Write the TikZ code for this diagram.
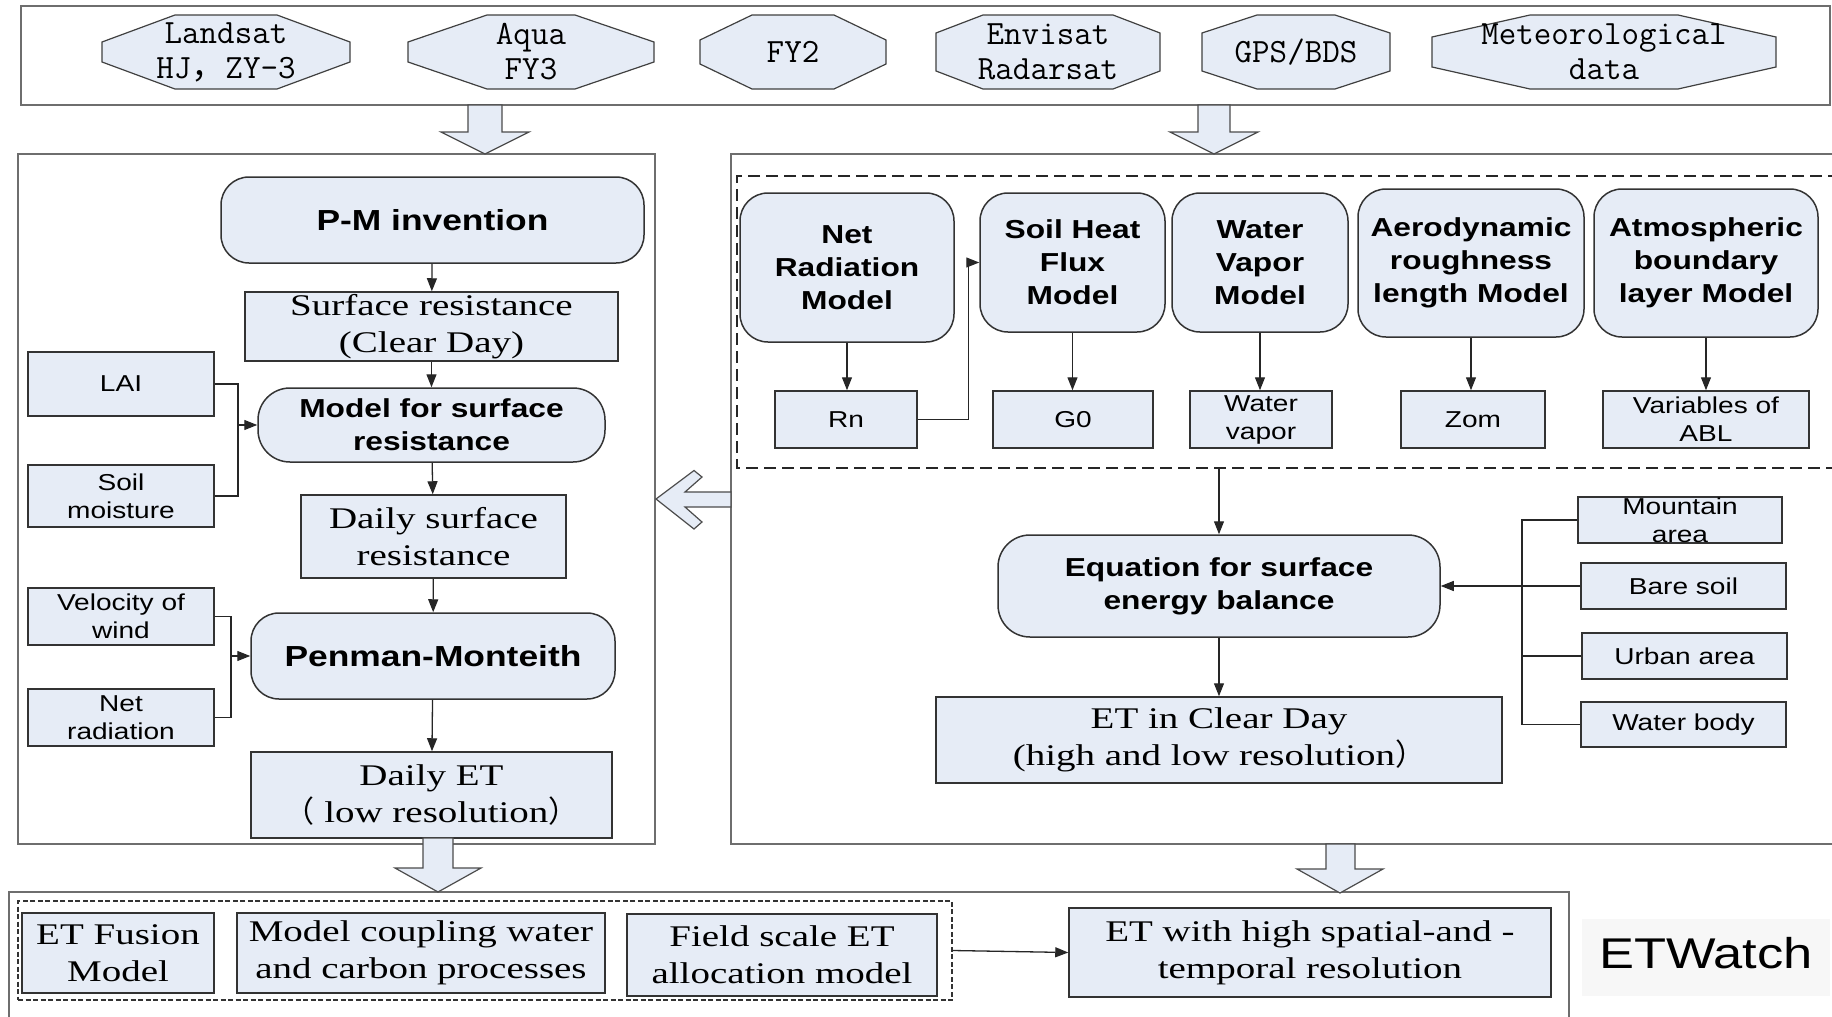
\documentclass[tikz,border=0pt]{standalone}
\usepackage{fontspec}
\setmainfont{Liberation Serif}[FakeStretch=1.3]
\setsansfont{Liberation Sans}[FakeStretch=1.22]
\newfontfamily\cjk{Noto Sans CJK SC}
\usetikzlibrary{arrows.meta}

\definecolor{boxblue}{RGB}{230,236,246}
\definecolor{framegray}{RGB}{110,110,110}

\tikzset{
  every node/.style={inner sep=0pt, align=center},
  satframe/.style={draw=black!75, fill=boxblue, line width=1.2pt},
  sat/.style={rectangle, font=\ttfamily\fontsize{34}{35}\selectfont},
  modelbox/.style={rectangle, rounded corners=28pt, draw=black!80, fill=boxblue, line width=1.5pt,
    font=\sffamily\bfseries\fontsize{26}{33}\selectfont},
  bigmodel/.style={modelbox, font=\sffamily\bfseries\fontsize{29}{35}\selectfont},
  databox/.style={rectangle, draw=black!80, fill=boxblue, line width=1.5pt,
    font=\sffamily\fontsize{23}{28}\selectfont},
  resbox/.style={rectangle, draw=black!80, fill=boxblue, line width=1.5pt,
    font=\rmfamily\fontsize{30}{37}\selectfont},
  panel/.style={draw=framegray, line width=2pt},
  link/.style={line width=1.3pt, draw=black!85},
  flow/.style={link, -{Triangle[length=13pt,width=10pt]}},
  blockarrow/.style={draw=black!70, fill=boxblue, line width=1.2pt, line join=miter}
}

\begin{document}
\begin{tikzpicture}[x=1pt, y=-1pt]
\useasboundingbox (0,0) rectangle (1832,1017);

% frames
\draw[panel] (21,6) rectangle (1830,105);
\draw[panel] (18,154) rectangle (655,844);
\draw[panel] (1840,154) -- (731,154) -- (731,844) -- (1840,844);
\draw[link, dash pattern=on 12pt off 6pt] (1840,176) -- (737,176) -- (737,468) -- (1840,468);
\draw[panel] (9,1030) -- (9,892) -- (1569,892) -- (1569,1030);

% data sources (octagons: centre x / half width / cut x / cut y)
\foreach \cx/\hw/\ca/\cb in {226/124/73/27, 531/123/79/27, 793/93/52/25,
                             1048/112/47/18, 1296/94/55/18, 1604/172/98/22}
  \draw[satframe] ({\cx-\hw+\ca},15) -- ({\cx+\hw-\ca},15) -- ({\cx+\hw},{15+\cb})
    -- ({\cx+\hw},{89-\cb}) -- ({\cx+\hw-\ca},89) -- ({\cx-\hw+\ca},89)
    -- ({\cx-\hw},{89-\cb}) -- ({\cx-\hw},{15+\cb}) -- cycle;
\node (land) at (226,52) [sat, minimum width=248, minimum height=74] {Landsat\\HJ{\cjk ，}ZY-3};
\node (aqua) at (531,52) [sat, minimum width=246, minimum height=74] {Aqua\\FY3};
\node (fy2) at (793,52) [sat, minimum width=186, minimum height=74] {FY2};
\node (envi) at (1048,52) [sat, minimum width=224, minimum height=74] {Envisat\\Radarsat};
\node (gps) at (1296,52) [sat, minimum width=188, minimum height=74] {GPS/BDS};
\node (met) at (1604,52) [sat, minimum width=343, minimum height=74] {Meteorological\\data};

% left panel
\node (pminv) at (432.5,220) [bigmodel, minimum width=423, minimum height=86] {P-M invention};
\node (surfres) at (431.5,326.5) [resbox, minimum width=373, minimum height=69] {Surface resistance\\(Clear Day)};
\node (modelsr) at (431.5,425) [modelbox, rounded corners=32pt, minimum width=347, minimum height=74] {Model for surface\\resistance};
\node (lai) at (121,384) [databox, minimum width=186, minimum height=64] {LAI};
\node (soilm) at (121,496) [databox, minimum width=186, minimum height=62] {Soil\\moisture};
\node (dailysr) at (433.5,536.5) [resbox, minimum width=265, minimum height=83] {Daily surface\\resistance};
\node (pm) at (433,656) [bigmodel, minimum width=364, minimum height=86] {Penman-Monteith};
\node (wind) at (121,616.5) [databox, minimum width=186, minimum height=57] {Velocity of\\wind};
\node (netrad) at (121,717.5) [databox, minimum width=186, minimum height=57] {Net\\radiation};
\node (dailyet) at (431.5,795) [resbox, minimum width=361, minimum height=86] {Daily ET\\{\cjk （} low resolution{\cjk ）}};

\draw[flow] (pminv) -- (surfres);
\draw[flow] (surfres) -- (modelsr);
\draw[flow] (modelsr) -- (dailysr);
\draw[flow] (dailysr) -- (pm);
\draw[flow] (pm) -- (dailyet);
\coordinate (laibus) at (238,425);
\draw[link] (lai.east) -| (laibus) |- (soilm.east);
\draw[flow] (laibus) -- (modelsr.west);
\coordinate (windbus) at (231,656);
\draw[link] (wind.east) -| (windbus) |- (netrad.east);
\draw[flow] (windbus) -- (pm.west);

% right panel
\node (netrm) at (847,267.5) [modelbox, minimum width=214, minimum height=149] {Net\\Radiation\\Model};
\node (soilhf) at (1072.5,262.5) [modelbox, minimum width=185, minimum height=139] {Soil Heat\\Flux\\Model};
\node (wvm) at (1260,262.5) [modelbox, minimum width=176, minimum height=139] {Water\\Vapor\\Model};
\node (aero) at (1471,263) [modelbox, minimum width=226, minimum height=148] {Aerodynamic\\roughness\\length Model};
\node (atm) at (1706,263) [modelbox, minimum width=224, minimum height=148] {Atmospheric\\boundary\\layer Model};
\node (rn) at (846,419.5) [databox, minimum width=142, minimum height=57] {Rn};
\node (g0) at (1073,419.5) [databox, minimum width=160, minimum height=57] {G0};
\node (wv) at (1261,419.5) [databox, minimum width=142, minimum height=57] {Water\\vapor};
\node (zom) at (1473,419.5) [databox, minimum width=144, minimum height=57] {Zom};
\node (abl) at (1706,419.5) [databox, minimum width=206, minimum height=57] {Variables of\\ABL};

\draw[flow] (netrm) -- (netrm |- rn.north);
\draw[flow] (soilhf) -- (soilhf |- g0.north);
\draw[flow] (wvm) -- (wvm |- wv.north);
\draw[flow] (aero) -- (aero |- zom.north);
\draw[flow] (atm) -- (atm |- abl.north);
\draw[flow] (rn.east) -- ++(51,0) |- (soilhf.west);

\node (eq) at (1219,586) [modelbox, rounded corners=32pt, minimum width=442, minimum height=102] {Equation for surface\\energy balance};
\node (etclear) at (1219,740) [resbox, minimum width=566, minimum height=86] {ET in Clear Day\\(high and low resolution{\cjk ）}};
\node (mount) at (1680,520) [databox, minimum width=204, minimum height=46] {Mountain\\area};
\node (bare) at (1683.5,586) [databox, minimum width=205, minimum height=46] {Bare soil};
\node (urban) at (1684.5,656) [databox, minimum width=205, minimum height=46] {Urban area};
\node (water) at (1683.5,724.5) [databox, minimum width=205, minimum height=45] {Water body};

\coordinate (dashbot) at (1219,468);
\draw[flow] (dashbot) -- (eq);
\draw[flow] (eq) -- (etclear);
\coordinate (surfbus) at (1522,586);
\draw[link] (mount.west) -| (surfbus) |- (water.west);
\draw[link] (urban.west) -- (urban.west -| surfbus);
\draw[flow] (bare.west) -- (eq.east);

% bottom row
\node (dotbox) at (485,950.5) [draw=black!80, line width=1.3pt, dash pattern=on 5pt off 2.5pt,
  minimum width=934, minimum height=99] {};
\node (fusion) at (118,953) [resbox, minimum width=192, minimum height=80] {ET Fusion\\Model};
\node (coupling) at (421,953) [resbox, minimum width=368, minimum height=80] {Model coupling water\\and carbon processes};
\node (field) at (782,955) [resbox, minimum width=310, minimum height=82] {Field scale ET\\allocation model};
\node (ethigh) at (1310,952.5) [resbox, minimum width=482, minimum height=89] {ET with high spatial-and -\\temporal resolution};
\draw[flow] (dotbox.east) -- (ethigh.west);
\fill[black!3] (1582,919) rectangle (1830,996);
\node (etwatch) at (1706,953.5) [font=\sffamily\fontsize{43}{50}\selectfont] {ETWatch};

% block arrows
\draw[blockarrow] (468,105) -- (502,105) -- (502,132) -- (529,132) -- (485,154) -- (441,132) -- (468,132) -- cycle;
\draw[blockarrow] (1198,105) -- (1230,105) -- (1230,132) -- (1258,132) -- (1214,154) -- (1170,132) -- (1198,132) -- cycle;
\draw[blockarrow] (423,838) -- (453,838) -- (453,868) -- (481,868) -- (438,892) -- (395,868) -- (423,868) -- cycle;
\draw[blockarrow] (1326,844) -- (1355,844) -- (1355,869) -- (1383,869) -- (1340,893) -- (1297,869) -- (1326,869) -- cycle;
\draw[blockarrow] (731,492) -- (685,492) -- (702,477) -- (694,470.5) -- (656,499) -- (694,529) -- (702,522) -- (685,507) -- (731,507) -- cycle;
\end{tikzpicture}
\end{document}
